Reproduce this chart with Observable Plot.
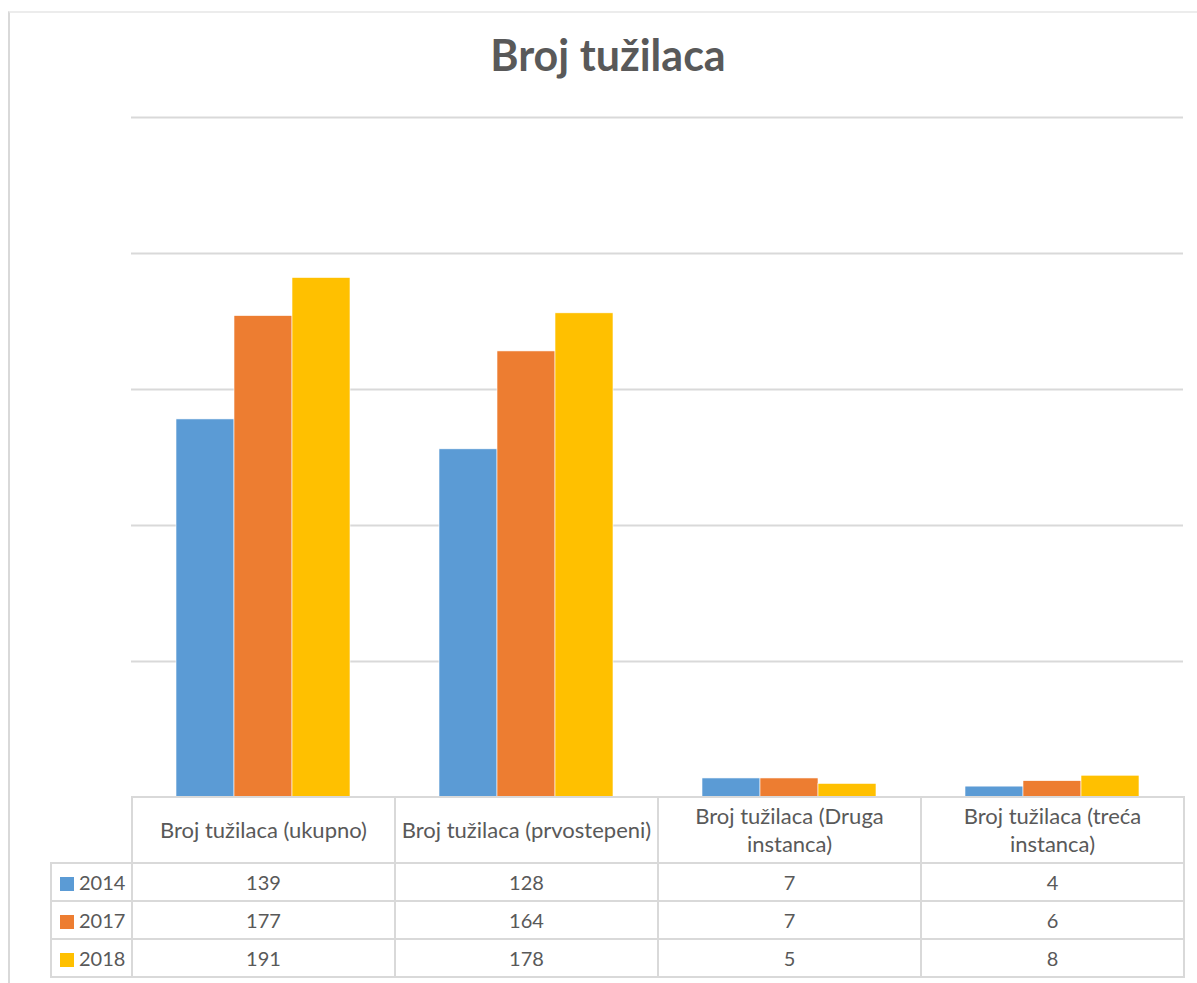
<!DOCTYPE html>
<html>
<head>
<meta charset="utf-8">
<script src="https://cdn.jsdelivr.net/npm/d3@7"></script>
<script src="https://cdn.jsdelivr.net/npm/@observablehq/plot@0.6"></script>
<style>
  html, body { margin: 0; padding: 0; background: #fff; }
  #wrap { position: relative; width: 1197px; height: 983px; overflow: hidden; font-family: Lato, "Open Sans", sans-serif; color: #595959; }
  #frame { position: absolute; left: 8px; top: 11px; width: 1200px; height: 1000px; border-left: 2px solid #d9d9d9; border-top: 2px solid #ececec; box-sizing: border-box; }
  #title { position: absolute; left: 8px; width: 1200px; top: 29px; text-align: center; font-weight: 700; font-size: 43px; line-height: 52px; color: #595959; }
  #chart { position: absolute; left: 0; top: 100px; }
  #table { position: absolute; left: 50px; top: 796px; border-collapse: collapse; table-layout: fixed; font-size: 20px; color: #595959; }
  #table td { border: 2px solid #d9d9d9; text-align: center; padding: 0 4px; box-sizing: border-box; }
  #table tr.head td { height: 66px; line-height: 28px; font-size: 22px; }
  #table tr.row td { height: 38px; line-height: 24px; }
  #table td.corner { border-top: none; border-left: none; }
  #table td.leg { text-align: left; padding-left: 8px; white-space: nowrap; }
  .sw { display: inline-block; width: 14px; height: 14px; margin-right: 5px; vertical-align: -1px; }
</style>
</head>
<body>
<div id="wrap">
  <div id="frame"></div>
  <div id="title">Broj tužilaca</div>
  <div id="chart"></div>
  <table id="table"></table>
</div>
<script>
const categories = ["Broj tužilaca (ukupno)", "Broj tužilaca (prvostepeni)", "Broj tužilaca (Druga instanca)", "Broj tužilaca (treća instanca)"];
const years = ["2014", "2017", "2018"];
const values2014 = [139, 128, 7, 4];
const values2017 = [177, 164, 7, 6];
const values2018 = [191, 178, 5, 8];
const colors = ["#5B9BD5", "#ED7D31", "#FFC000"];
const yTicks = [50, 100, 150, 200, 250];

const series = [values2014, values2017, values2018];
const data = [];
categories.forEach((c, i) => years.forEach((y, j) => data.push({category: c, year: y, value: series[j][i]})));

const plot = Plot.plot({
  width: 1197,
  height: 700,
  marginLeft: 131,
  marginRight: 14,
  marginTop: 17,
  marginBottom: 3,
  fx: {domain: categories, padding: 0, axis: null},
  x: {domain: years, paddingInner: 0, paddingOuter: 0.75, axis: null},
  y: {domain: [0, 250], axis: null},
  color: {domain: years, range: colors},
  marks: [
    Plot.ruleY(yTicks, {stroke: "#d9d9d9", strokeWidth: 2}),
    Plot.barY(data, {fx: "category", x: "year", y: "value", fill: "year", stroke: "#ffffff", strokeWidth: 0.6})
  ]
});
document.getElementById("chart").appendChild(plot);

// data table below the chart (acts as x axis + legend)
const table = document.getElementById("table");
const colgroup = document.createElement("colgroup");
const widths = [81, 263, 263, 263, 263];
widths.forEach(w => { const col = document.createElement("col"); col.style.width = w + "px"; colgroup.appendChild(col); });
table.appendChild(colgroup);
const head = document.createElement("tr");
head.className = "head";
const corner = document.createElement("td");
corner.className = "corner";
head.appendChild(corner);
categories.forEach(c => { const td = document.createElement("td"); td.textContent = c; head.appendChild(td); });
table.appendChild(head);
years.forEach((y, j) => {
  const tr = document.createElement("tr");
  tr.className = "row";
  const leg = document.createElement("td");
  leg.className = "leg";
  const sw = document.createElement("span");
  sw.className = "sw";
  sw.style.background = colors[j];
  leg.appendChild(sw);
  leg.appendChild(document.createTextNode(y));
  tr.appendChild(leg);
  series[j].forEach(v => { const td = document.createElement("td"); td.textContent = v; tr.appendChild(td); });
  table.appendChild(tr);
});
</script>
</body>
</html>
